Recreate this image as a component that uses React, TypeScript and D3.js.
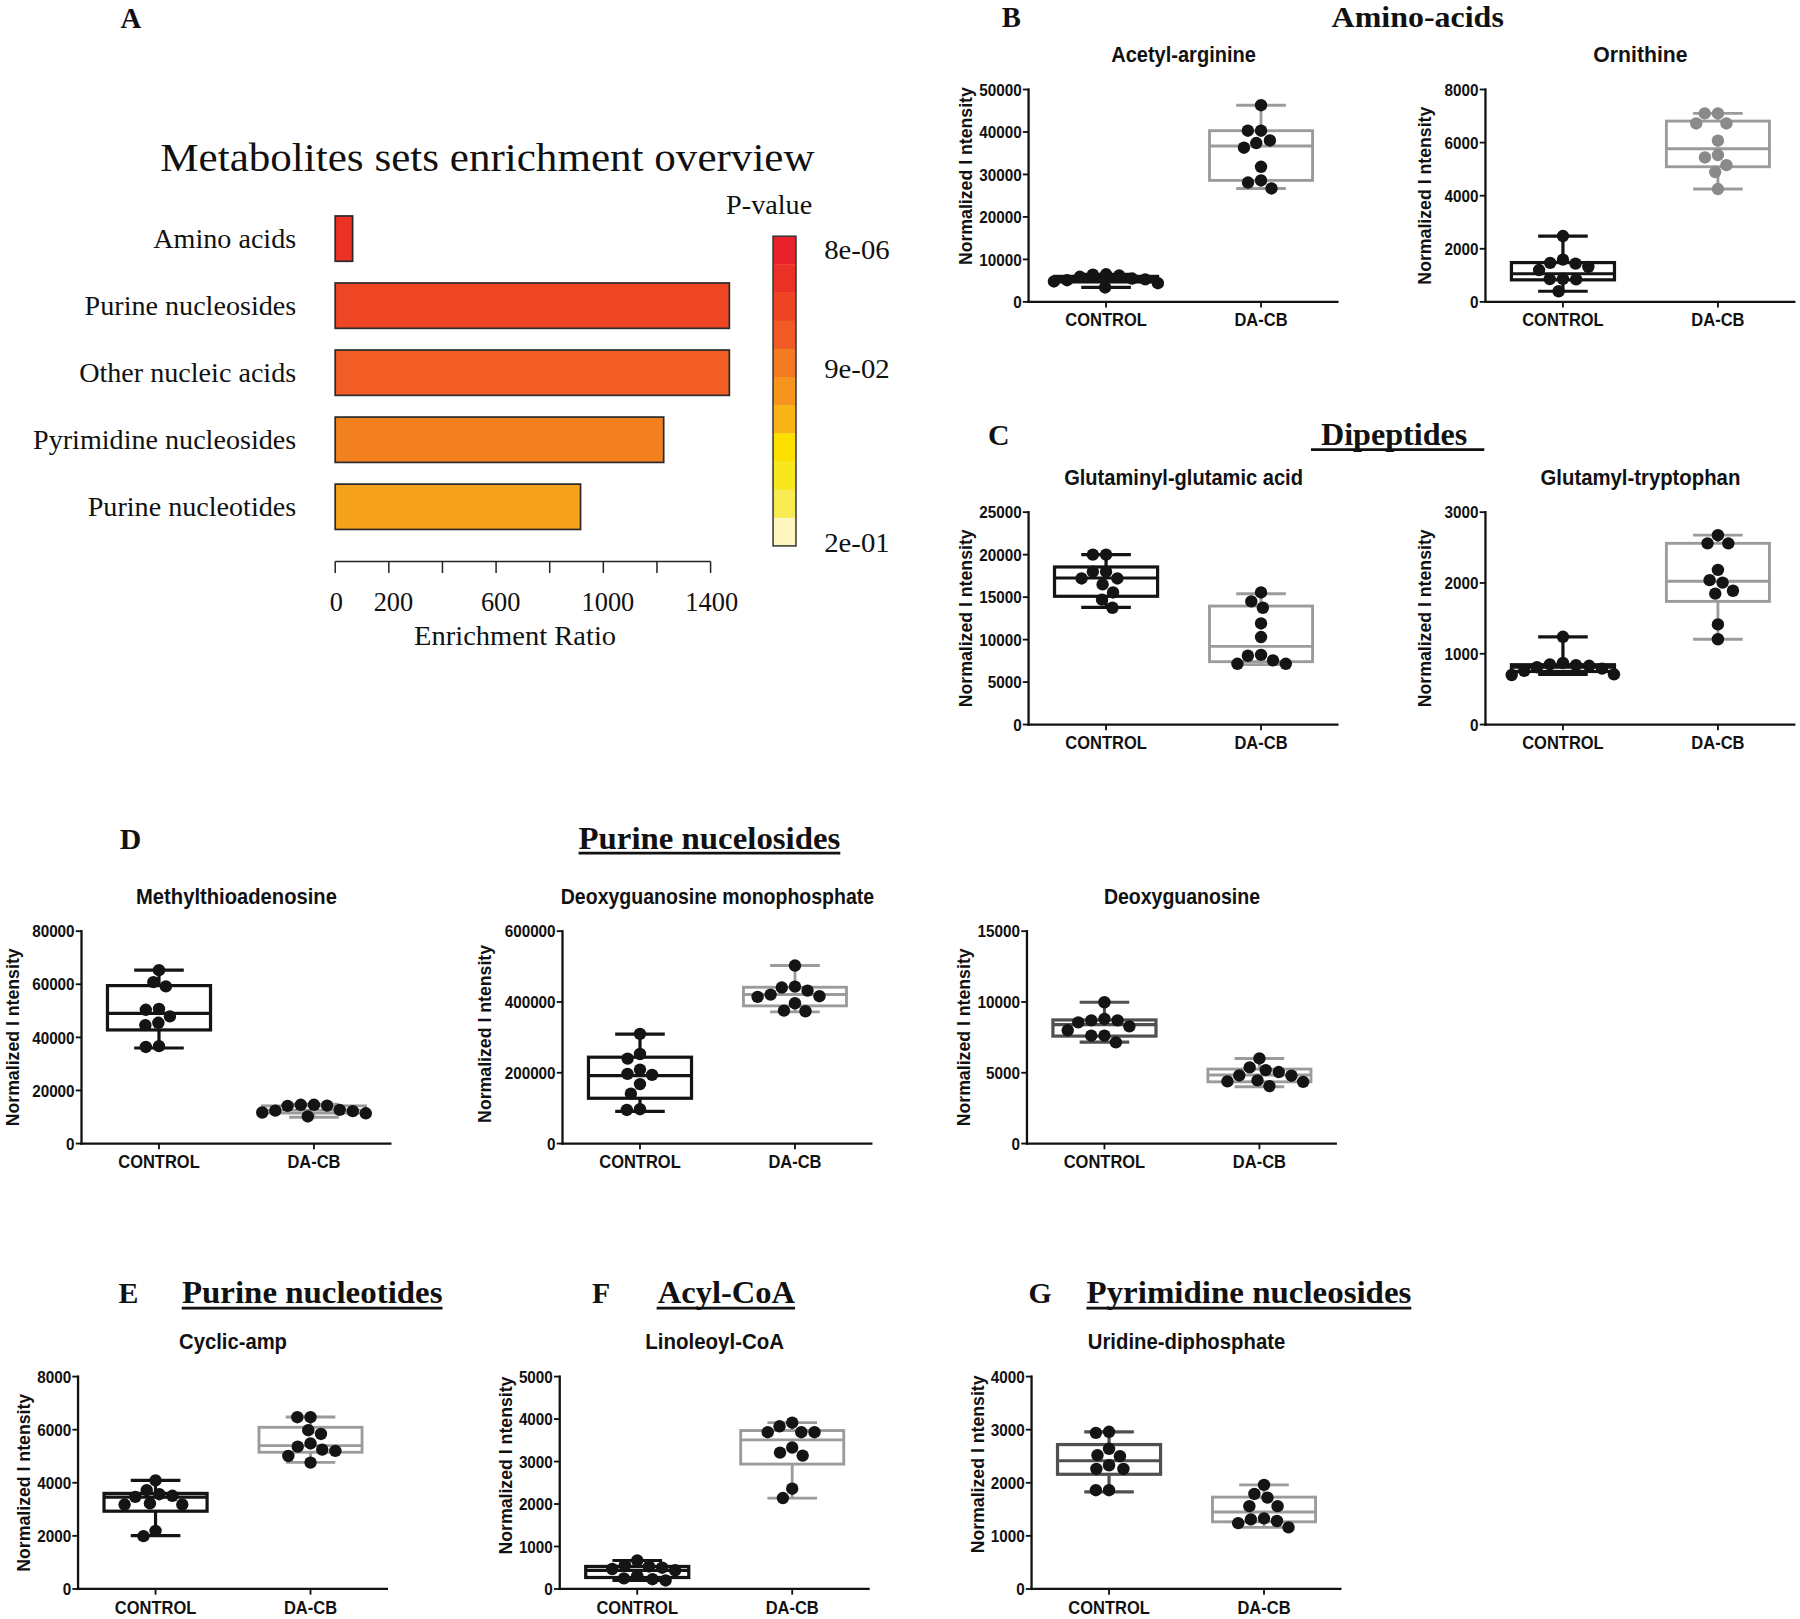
import * as d3 from "d3"

// frame used for all coordinates below; scaled up to 1800 x 1619 by the viewBox
const W = 1568
const H = 1410

const sans = "'Liberation Sans', Arial, Helvetica, sans-serif"
const serif = "'Liberation Serif', 'Times New Roman', Times, serif"

// ---------- panel A data ----------
const setNames = ["Amino acids", "Purine nucleosides", "Other nucleic acids", "Pyrimidine nucleosides", "Purine nucleotides"]
const enrichmentRatio = [65, 1470, 1470, 1225, 915]
const ratioTicks = [0, 200, 400, 600, 800, 1000, 1200, 1400]
const ratioTickLabels = [0, 200, 600, 1000, 1400]
const pLegendLabels = ["8e-06", "9e-02", "2e-01"]
const pLegendAt = [0.5, 4.7, 10.9] // position along the colour bar, in steps

// ---------- box plot data (min, q1, median, q3, max) ----------
const groups = ["CONTROL", "DA-CB"]

const acetylArginineControl = [6500, 6400, 6200, 5900, 5500, 5300, 5100, 4800, 4400, 3400]
const acetylArginineDacb = [46300, 40300, 40300, 38000, 37400, 36300, 31800, 28600, 28100, 26700]
const acetylArginineBoxes = [[3400, 4700, 5300, 6000, 6500], [26700, 28600, 36700, 40300, 46300]]

const ornithineControl = [2480, 1590, 1470, 1440, 1320, 1200, 870, 860, 850, 400]
const ornithineDacb = [7100, 7100, 6720, 6720, 6070, 5530, 5440, 5150, 4890, 4250]
const ornithineBoxes = [[400, 830, 1060, 1480, 2480], [4250, 5090, 5770, 6810, 7100]]

const glutaminylControl = [20000, 20000, 18000, 18000, 17200, 17200, 16500, 15550, 14700, 13750]
const glutaminylDacb = [15550, 14500, 13750, 11900, 10300, 8200, 8100, 7550, 7150, 7150]
const glutaminylBoxes = [[13800, 15100, 17250, 18550, 20000], [7050, 7400, 9200, 13950, 15400]]

const glutamylTrpControl = [1240, 870, 850, 840, 830, 810, 790, 760, 710, 700]
const glutamylTrpDacb = [2675, 2560, 2560, 2185, 2040, 2005, 1890, 1850, 1415, 1205]
const glutamylTrpBoxes = [[710, 750, 810, 845, 1240], [1205, 1740, 2025, 2560, 2675]]

const mtaControl = [65300, 60800, 59200, 50700, 50400, 47900, 45500, 44600, 36700, 36400]
const mtaDacb = [14600, 14600, 14300, 14200, 12700, 12400, 12200, 11700, 11400, 10200]
const mtaBoxes = [[36000, 42800, 49000, 59500, 65300], [9900, 11500, 12600, 14200, 14800]]

const dgmpControl = [310000, 253000, 240000, 209000, 197000, 194000, 168000, 141000, 97000, 95000]
const dgmpDacb = [503000, 443500, 440700, 432200, 420900, 416200, 414300, 396400, 375700, 373800]
const dgmpBoxes = [[91000, 128000, 192000, 244000, 309000], [372000, 389000, 421000, 441600, 503000]]

const dgControl = [9980, 8800, 8700, 8700, 8560, 8280, 8000, 7620, 7620, 7150]
const dgDacb = [6010, 5380, 5190, 5050, 4810, 4790, 4460, 4390, 4360, 4060]
const dgBoxes = [[7170, 7590, 8400, 8730, 9980], [4010, 4360, 4840, 5260, 6010]]

const campControl = [4090, 3720, 3570, 3510, 3470, 3220, 3180, 3180, 2190, 1990]
const campDacb = [6470, 6470, 5980, 5840, 5480, 5360, 5250, 5200, 5010, 4760]
const campBoxes = [[2010, 2930, 3460, 3600, 4090], [4770, 5150, 5400, 6090, 6480]]

const linoleoylControl = [670, 560, 530, 500, 470, 440, 310, 250, 230, 200]
const linoleoylDacb = [3915, 3830, 3690, 3690, 3690, 3330, 3210, 3140, 2360, 2140]
const linoleoylBoxes = [[200, 270, 440, 530, 670], [2140, 2940, 3510, 3730, 3915]]

const udpControl = [2960, 2940, 2640, 2520, 2500, 2330, 2260, 2260, 1860, 1860]
const udpDacb = [1960, 1790, 1720, 1560, 1560, 1330, 1310, 1280, 1240, 1160]
const udpBoxes = [[1830, 2160, 2415, 2720, 2960], [1160, 1265, 1450, 1730, 1960]]

// ---------- styles / layout ----------
const heatSteps = ["#E8212A", "#EB3026", "#EE4423", "#F05A24", "#F37A20", "#F6951E", "#FAB316", "#FDE000", "#F8E71C", "#F7EB51", "#FDF6C0"]
const barFill = ["#ED3125", "#EE4624", "#F15D25", "#F3801F", "#F7A21B"]

const BLACK = "#141414"
const DARK = "#505050"
const GREY = "#9b9b9b"

const PLOT_W = 270
const PLOT_H = 185

interface PlotSpec {
  title: string
  titleW: number
  x0: number
  y0: number
  max: number
  step: number
  control: number[]
  dacb: number[]
  boxes: number[][]
  boxColors: string[]
  dotColors: string[]
  labelShift: number
  labelPad?: number
}

const plots: PlotSpec[] = [
  { title: "Acetyl-arginine", titleW: 126, x0: 896, y0: 77.8, max: 50000, step: 10000, control: acetylArginineControl, dacb: acetylArginineDacb, boxes: acetylArginineBoxes, boxColors: [BLACK, GREY], dotColors: [BLACK, BLACK], labelShift: -17 },
  { title: "Ornithine", titleW: 82, x0: 1294, y0: 77.8, max: 8000, step: 2000, control: ornithineControl, dacb: ornithineDacb, boxes: ornithineBoxes, boxColors: [BLACK, GREY], dotColors: [BLACK, "#8a8a8a"], labelShift: 0, labelPad: 6 },
  { title: "Glutaminyl-glutamic acid", titleW: 208, x0: 896, y0: 446, max: 25000, step: 5000, control: glutaminylControl, dacb: glutaminylDacb, boxes: glutaminylBoxes, boxColors: [BLACK, GREY], dotColors: [BLACK, BLACK], labelShift: 0 },
  { title: "Glutamyl-tryptophan", titleW: 174, x0: 1294, y0: 446, max: 3000, step: 1000, control: glutamylTrpControl, dacb: glutamylTrpDacb, boxes: glutamylTrpBoxes, boxColors: [BLACK, GREY], dotColors: [BLACK, BLACK], labelShift: 0, labelPad: 6 },
  { title: "Methylthioadenosine", titleW: 175, x0: 71, y0: 811, max: 80000, step: 20000, control: mtaControl, dacb: mtaDacb, boxes: mtaBoxes, boxColors: [BLACK, GREY], dotColors: [BLACK, BLACK], labelShift: 0, labelPad: 5 },
  { title: "Deoxyguanosine monophosphate", titleW: 273, x0: 490, y0: 811, max: 600000, step: 200000, control: dgmpControl, dacb: dgmpDacb, boxes: dgmpBoxes, boxColors: [BLACK, GREY], dotColors: [BLACK, BLACK], labelShift: -3, labelPad: 6 },
  { title: "Deoxyguanosine", titleW: 136, x0: 894.6, y0: 811, max: 15000, step: 5000, control: dgControl, dacb: dgDacb, boxes: dgBoxes, boxColors: [DARK, GREY], dotColors: [BLACK, BLACK], labelShift: 0 },
  { title: "Cyclic-amp", titleW: 94, x0: 68, y0: 1199, max: 8000, step: 2000, control: campControl, dacb: campDacb, boxes: campBoxes, boxColors: [BLACK, GREY], dotColors: [BLACK, BLACK], labelShift: 0 },
  { title: "Linoleoyl-CoA", titleW: 121, x0: 487.6, y0: 1199, max: 5000, step: 1000, control: linoleoylControl, dacb: linoleoylDacb, boxes: linoleoylBoxes, boxColors: [BLACK, GREY], dotColors: [BLACK, BLACK], labelShift: -15 },
  { title: "Uridine-diphosphate", titleW: 172, x0: 898.6, y0: 1199, max: 4000, step: 1000, control: udpControl, dacb: udpDacb, boxes: udpBoxes, boxColors: [DARK, GREY], dotColors: [BLACK, BLACK], labelShift: -16 },
]

const headings = [
  { letter: "B", lx: 881, text: "Amino-acids", cx: 1235, base: 23.5, w: 150, ul: false },
  { letter: "C", lx: 870, text: "Dipeptides", cx: 1214.5, base: 387.5, w: 127.5, ul: true, ulFrom: 1142, ulTo: 1293 },
  { letter: "D", lx: 113.6, text: "Purine nucelosides", cx: 618, base: 739, w: 228, ul: true, ulFrom: 504, ulTo: 732 },
  { letter: "E", lx: 112, text: "Purine nucleotides", cx: 272, base: 1135.3, w: 227, ul: true, ulFrom: 158.3, ulTo: 385.5 },
  { letter: "F", lx: 523.7, text: "Acyl-CoA", cx: 632.8, base: 1135.3, w: 119.6, ul: true, ulFrom: 572, ulTo: 692.6 },
  { letter: "G", lx: 906, text: "Pyrimidine nucleosides", cx: 1088, base: 1135.3, w: 283, ul: true, ulFrom: 946.4, ulTo: 1229.4 },
]

// simple beeswarm: each dot goes to the free spot closest to the centre line
function swarm(values: number[], y: (v: number) => number, d: number): number[] {
  const placed: { x: number; y: number }[] = []
  const out = new Array(values.length).fill(0)
  const order = values.map((_, i) => i).sort((a, b) => values[b] - values[a])
  for (const i of order) {
    const py = y(values[i])
    const near = placed.filter((p) => Math.abs(p.y - py) < d)
    const cands = [0]
    for (const p of near) {
      const w = Math.sqrt(d * d - (p.y - py) ** 2)
      cands.push(p.x + w, p.x - w)
    }
    const ok = cands
      .filter((c) => near.every((p) => (p.x - c) ** 2 + (p.y - py) ** 2 >= d * d - 0.01))
      .sort((a, b) => Math.abs(a) - Math.abs(b) || a - b)
    placed.push({ x: ok[0], y: py })
    out[i] = ok[0]
  }
  return out
}

function BoxPlot({ p }: { p: PlotSpec }) {
  const y = d3.scaleLinear([0, p.max], [p.y0 + PLOT_H, p.y0])
  const x = d3.scalePoint(groups, [p.x0, p.x0 + PLOT_W]).padding(0.5)
  const ticks = d3.range(0, p.max + p.step / 2, p.step)
  const boxW = x.step() * 0.665
  const capW = x.step() * 0.32
  const maxLen = d3.max(ticks, (t) => String(t).length) ?? 1
  const labelX = p.x0 - (6 + maxLen * 7.4 + 12 + (p.labelPad ?? 0))
  const labelY = p.y0 + PLOT_H / 2 + p.labelShift
  const yBot = p.y0 + PLOT_H
  const series = [p.control, p.dacb]

  return (
    <g>
      <text
        x={p.x0 + PLOT_W / 2}
        y={p.y0 - 24}
        textAnchor="middle"
        fontFamily={sans}
        fontWeight="bold"
        fontSize={19.5}
        textLength={p.titleW}
        lengthAdjust="spacingAndGlyphs"
        fill="#111"
      >
        {p.title}
      </text>
      <text
        transform={`translate(${labelX},${labelY}) rotate(-90)`}
        textAnchor="middle"
        dy="0.36em"
        fontFamily={sans}
        fontWeight="bold"
        fontSize={16}
        textLength={155}
        lengthAdjust="spacingAndGlyphs"
        fill="#111"
      >
        Normalized I ntensity
      </text>

      {/* axes */}
      <line x1={p.x0} x2={p.x0} y1={p.y0 - 1} y2={yBot + 1} stroke="#111" strokeWidth={2} />
      <line x1={p.x0 - 1} x2={p.x0 + PLOT_W} y1={yBot} y2={yBot} stroke="#111" strokeWidth={2} />
      {ticks.map((t) => (
        <g key={t}>
          <line x1={p.x0 - 5} x2={p.x0} y1={y(t)} y2={y(t)} stroke="#111" strokeWidth={1.6} />
          <text
            x={p.x0 - 6}
            y={y(t)}
            dy="0.36em"
            textAnchor="end"
            fontFamily={sans}
            fontWeight="bold"
            fontSize={15}
            textLength={String(t).length * 7.4}
            lengthAdjust="spacingAndGlyphs"
            fill="#111"
          >
            {t}
          </text>
        </g>
      ))}
      {groups.map((g, gi) => (
        <g key={g}>
          <line x1={x(g)!} x2={x(g)!} y1={yBot} y2={yBot + 5} stroke="#111" strokeWidth={1.6} />
          <text
            x={x(g)!}
            y={yBot + 21.4}
            textAnchor="middle"
            fontFamily={sans}
            fontWeight="bold"
            fontSize={15.5}
            textLength={gi === 0 ? 71 : 46.3}
            lengthAdjust="spacingAndGlyphs"
            fill="#111"
          >
            {g}
          </text>
        </g>
      ))}

      {/* boxes + whiskers */}
      {groups.map((g, gi) => {
        const [mn, q1, md, q3, mx] = p.boxes[gi]
        const cx = x(g)!
        const c = p.boxColors[gi]
        const sw = gi === 0 ? 2.8 : 2.5
        return (
          <g key={g} stroke={c} strokeWidth={sw} fill="none">
            <line x1={cx} x2={cx} y1={y(mx)} y2={y(q3)} />
            <line x1={cx} x2={cx} y1={y(q1)} y2={y(mn)} />
            <line x1={cx - capW / 2} x2={cx + capW / 2} y1={y(mx)} y2={y(mx)} />
            <line x1={cx - capW / 2} x2={cx + capW / 2} y1={y(mn)} y2={y(mn)} />
            <rect x={cx - boxW / 2} y={y(q3)} width={boxW} height={Math.max(0.5, y(q1) - y(q3))} fill="#fff" />
            <line x1={cx - boxW / 2} x2={cx + boxW / 2} y1={y(md)} y2={y(md)} />
          </g>
        )
      })}

      {/* dots */}
      {groups.map((g, gi) => {
        const vals = series[gi]
        const off = swarm(vals, (v) => y(v), 11.5)
        return (
          <g key={g} fill={p.dotColors[gi]}>
            {vals.map((v, i) => (
              <circle key={i} cx={x(g)! + off[i]} cy={y(v)} r={5.4} />
            ))}
          </g>
        )
      })}
    </g>
  )
}

function EnrichmentPanel() {
  const x = d3.scaleLinear([0, 1400], [292, 619])
  const y = d3.scaleBand(setNames, [178.5, 470.5]).paddingInner(0.324).paddingOuter(0.162)
  const fill = d3.scaleOrdinal(setNames, barFill)
  const seg = d3.scaleLinear([0, heatSteps.length], [205.6, 475.4])
  const segH = seg(1) - seg(0)
  return (
    <g fontFamily={serif} fill="#111">
      <text x={114} y={24} textAnchor="middle" fontWeight="bold" fontSize={25}>
        A
      </text>
      <text x={424.6} y={148.6} textAnchor="middle" fontSize={35} textLength={570} lengthAdjust="spacingAndGlyphs">
        Metabolites sets enrichment overview
      </text>
      {setNames.map((s, i) => (
        <g key={s}>
          <rect
            x={x(0)}
            y={y(s)!}
            width={x(enrichmentRatio[i]) - x(0)}
            height={y.bandwidth()}
            fill={fill(s)}
            stroke="#2b2b2b"
            strokeWidth={1.5}
          />
          <text x={258} y={y(s)! + y.bandwidth() / 2 + 8} textAnchor="end" fontSize={24.5}>
            {s}
          </text>
        </g>
      ))}
      <line x1={x(0)} x2={x(1400)} y1={489} y2={489} stroke="#222" strokeWidth={1.3} />
      {ratioTicks.map((t) => (
        <line key={t} x1={x(t)} x2={x(t)} y1={489} y2={499} stroke="#222" strokeWidth={1.3} />
      ))}
      {ratioTickLabels.map((t) => (
        <text key={t} x={x(t) + (t > 0 && t < 1400 ? 4 : 1)} y={532} textAnchor="middle" fontSize={23}>
          {t}
        </text>
      ))}
      <text x={448.7} y={561.4} textAnchor="middle" fontSize={23} textLength={176} lengthAdjust="spacingAndGlyphs">
        Enrichment Ratio
      </text>

      <text x={670} y={186.2} textAnchor="middle" fontSize={23} textLength={75} lengthAdjust="spacingAndGlyphs">
        P-value
      </text>
      {heatSteps.map((c, i) => (
        <rect key={c} x={673.4} y={seg(i)} width={20} height={segH + 0.3} fill={c} />
      ))}
      <rect x={673.4} y={seg(0)} width={20} height={seg(heatSteps.length) - seg(0)} fill="none" stroke="#333" strokeWidth={1.3} />
      {pLegendLabels.map((l, i) => (
        <text key={l} x={718} y={seg(pLegendAt[i]) + 8} fontSize={23} textLength={57} lengthAdjust="spacingAndGlyphs">
          {l}
        </text>
      ))}
    </g>
  )
}

export default function App() {
  return (
    <svg
      width={1800}
      height={1619}
      viewBox={`0 0 ${W} ${H}`}
      style={{ position: "absolute", left: 0, top: 0, background: "#fff" }}
    >
      <rect x={0} y={0} width={W} height={H} fill="#fff" />
      <EnrichmentPanel />
      {headings.map((h) => (
        <g key={h.letter} fontFamily={serif} fontWeight="bold" fill="#111">
          <text x={h.lx} y={h.base} textAnchor="middle" fontSize={h.letter === "B" ? 25 : 26}>
            {h.letter}
          </text>
          <text
            x={h.cx}
            y={h.base}
            textAnchor="middle"
            fontSize={h.letter === "B" ? 25.5 : 27}
            textLength={h.w}
            lengthAdjust="spacingAndGlyphs"
          >
            {h.text}
          </text>
          {h.ul && <line x1={h.ulFrom} x2={h.ulTo} y1={h.base + 4} y2={h.base + 4} stroke="#111" strokeWidth={2.3} />}
        </g>
      ))}
      {plots.map((p) => (
        <BoxPlot key={p.title} p={p} />
      ))}
    </svg>
  )
}
